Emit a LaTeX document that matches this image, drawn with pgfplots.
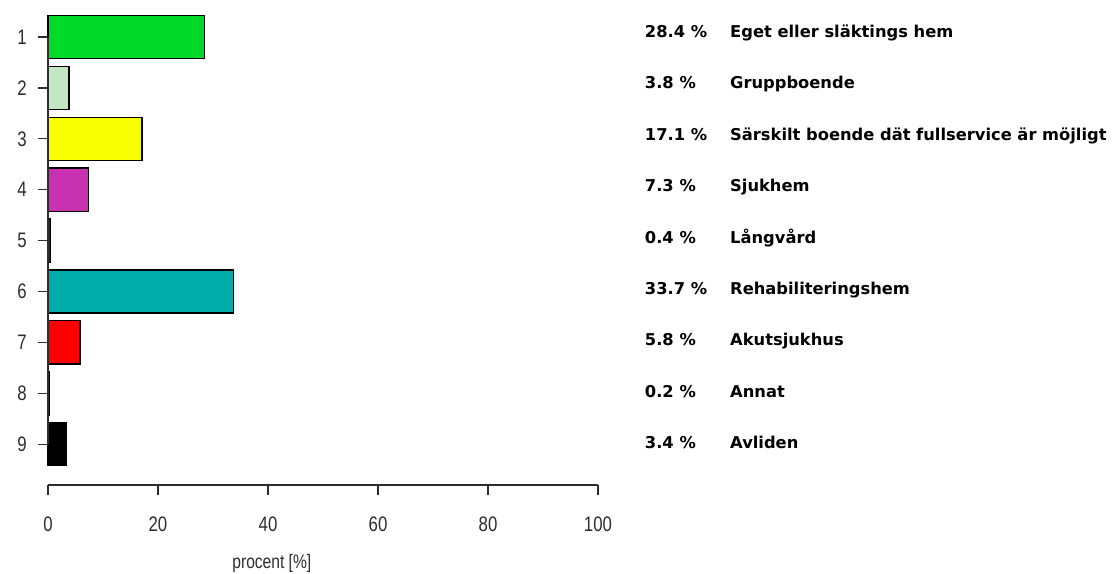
\documentclass[border=0pt]{standalone}
\usepackage{fontspec}
\setmainfont{Liberation Sans}
\newfontfamily\tickfont[FakeStretch=0.8]{Liberation Sans}
\newfontfamily\labfont{DejaVu Sans}
\usepackage{pgfplots}
\pgfplotsset{compat=1.18}
\definecolor{c1}{RGB}{0,217,40}
\definecolor{c2}{RGB}{193,232,193}
\definecolor{c3}{RGB}{248,255,0}
\definecolor{c4}{RGB}{200,50,176}
\definecolor{c5}{RGB}{30,30,110}
\definecolor{c6}{RGB}{0,171,170}
\definecolor{c7}{RGB}{255,0,0}
\definecolor{c8}{RGB}{20,20,20}
\definecolor{c9}{RGB}{0,0,0}
\definecolor{axc}{RGB}{45,45,45}
\begin{document}
\begin{tikzpicture}
\begin{axis}[
  scale only axis, width=550pt, height=473.4pt,
  xmin=0, xmax=100, ymin=0.2, ymax=9.5,
  xtick={0,20,40,60,80,100},
  ytick={1,2,3,4,5,6,7,8,9},
  yticklabels={9,8,7,6,5,4,3,2,1},
  axis x line*=bottom, axis y line*=left,
  axis line style={draw=none,-},
  tick align=outside, major tick length=10pt,
  tick style={line width=1.3pt, color=axc},
  xbar, bar width=0.85,
  clip=false,
  /pgf/number format/assume math mode=true,
  tick label style={font=\tickfont\fontsize{21}{21}\selectfont, inner sep=0pt, text=axc},
  xticklabel style={yshift=-22pt},
  yticklabel style={xshift=-11pt},
  xlabel={procent [\%]},
  xlabel style={font=\tickfont\fontsize{19.5}{19.5}\selectfont, at={(rel axis cs:0.407,0)}, anchor=north, inner sep=0pt, yshift=-69pt, text=axc},
  every axis plot/.append style={draw=black, line width=1.3pt, bar shift=0pt},
]
\addplot[fill=c1, draw=black, bar shift=0pt] coordinates {(28.4,9)};
\addplot[fill=c2, draw=black, bar shift=0pt] coordinates {(3.8,8)};
\addplot[fill=c3, draw=black, bar shift=0pt] coordinates {(17.1,7)};
\addplot[fill=c4, draw=black, bar shift=0pt] coordinates {(7.3,6)};
\addplot[fill=c5, draw=black, bar shift=0pt] coordinates {(0.4,5)};
\addplot[fill=c6, draw=black, bar shift=0pt] coordinates {(33.7,4)};
\addplot[fill=c7, draw=black, bar shift=0pt] coordinates {(5.8,3)};
\addplot[fill=c8, draw=black, bar shift=0pt] coordinates {(0.2,2)};
\addplot[fill=c9, draw=black, bar shift=0pt] coordinates {(3.4,1)};
\draw[line width=1.3pt, color=axc] (axis cs:0,0.2) -- (axis cs:100,0.2);
\draw[line width=1.3pt, color=axc] (axis cs:0,1) -- (axis cs:0,9);
\begin{scope}[every node/.style={anchor=base west, inner sep=0pt, font=\labfont\bfseries\fontsize{16.3}{16.3}\selectfont}]
\node at (axis cs:108.5,8.99) {28.4 \%};
\node at (axis cs:124,8.99) {Eget eller släktings hem};
\node at (axis cs:108.5,7.98) {3.8 \%};
\node at (axis cs:124,7.98) {Gruppboende};
\node at (axis cs:108.5,6.97) {17.1 \%};
\node at (axis cs:124,6.97) {Särskilt boende dät fullservice är möjligt};
\node at (axis cs:108.5,5.96) {7.3 \%};
\node at (axis cs:124,5.96) {Sjukhem};
\node at (axis cs:108.5,4.95) {0.4 \%};
\node at (axis cs:124,4.95) {Långvård};
\node at (axis cs:108.5,3.94) {33.7 \%};
\node at (axis cs:124,3.94) {Rehabiliteringshem};
\node at (axis cs:108.5,2.93) {5.8 \%};
\node at (axis cs:124,2.93) {Akutsjukhus};
\node at (axis cs:108.5,1.92) {0.2 \%};
\node at (axis cs:124,1.92) {Annat};
\node at (axis cs:108.5,0.91) {3.4 \%};
\node at (axis cs:124,0.91) {Avliden};
\end{scope}
\end{axis}
\pgfresetboundingbox
\path[use as bounding box] ([xshift=-48pt,yshift=11.55pt]current axis.north west) rectangle ([xshift=517pt,yshift=-89pt]current axis.south east);
\end{tikzpicture}
\end{document}
